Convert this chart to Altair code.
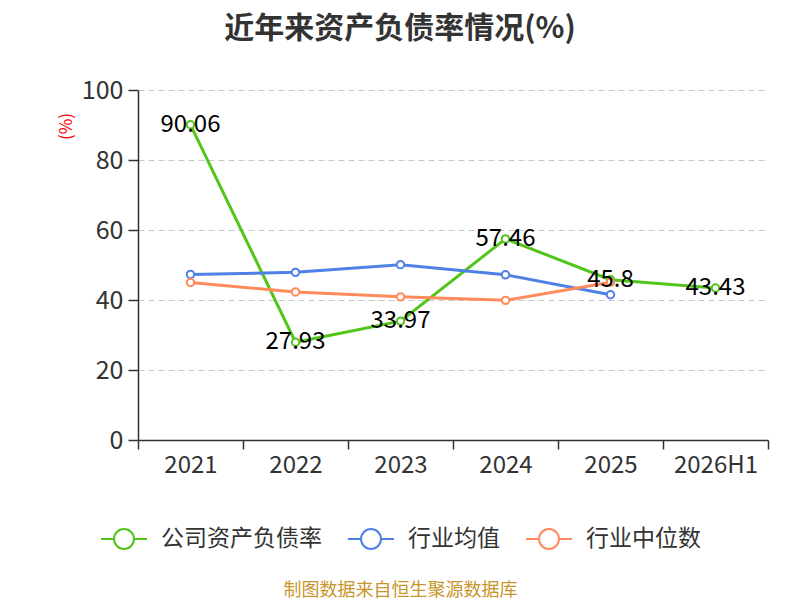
import altair as alt
import pandas as pd

years = ["2021", "2022", "2023", "2024", "2025", "2026H1"]
company = [90.06, 27.93, 33.97, 57.46, 45.8, 43.43]
industry_avg = [47.3, 47.9, 50.1, 47.2, 41.5]
industry_median = [45.0, 42.3, 40.9, 39.9, 45.1]

series_names = ["公司资产负债率", "行业均值", "行业中位数"]
series_colors = ["#52c41a", "#4e80e6", "#ff8a5c"]

rows = []
for y, v in zip(years, company):
    rows.append({"year": y, "value": v, "series": series_names[0]})
for y, v in zip(years, industry_avg):
    rows.append({"year": y, "value": v, "series": series_names[1]})
for y, v in zip(years, industry_median):
    rows.append({"year": y, "value": v, "series": series_names[2]})
df = pd.DataFrame(rows)

FONT = "Noto Sans CJK SC"
legend_symbol = "M-0.92,0L-0.4,0 M0.4,0 A0.4,0.4 0 1,1 -0.4,0 A0.4,0.4 0 1,1 0.4,0 M0.4,0L0.92,0"

x = alt.X(
    "year:N", sort=years,
    scale=alt.Scale(domain=years, paddingInner=0, paddingOuter=0),
    axis=alt.Axis(
        title="制图数据来自恒生聚源数据库", titleColor="#c8952a", titleFontSize=18,
        titleFontWeight="normal", titleY=141, titleX=262,
        labelAngle=0, labelFontSize=24, labelColor="#333333", labelPadding=4,
        tickBand="extent", tickSize=9, tickColor="#333333", tickWidth=1.5,
        domainColor="#333333", domainWidth=1.5, grid=False,
    ),
)
y = alt.Y(
    "value:Q",
    scale=alt.Scale(domain=[0, 100]),
    axis=alt.Axis(
        title="(%)", titleColor="#ff0000", titleFontSize=17, titleFontWeight="normal",
        titleX=-63, titleY=36, titleAngle=-90, titleAlign="center",
        values=[0, 20, 40, 60, 80, 100], labelFontSize=25, labelColor="#333333",
        labelPadding=5, tickSize=10, tickColor="#333333", tickWidth=1.5,
        domainColor="#333333", domainWidth=1.5,
        grid=True, gridColor="#c8c8c8", gridDash=[6, 4], gridWidth=1.2,
    ),
)
color = alt.Color(
    "series:N",
    scale=alt.Scale(domain=series_names, range=series_colors),
    legend=alt.Legend(
        title=None, orient="none", direction="horizontal", legendX=-40, legendY=423,
        symbolType=legend_symbol, symbolSize=2500, symbolStrokeWidth=2,
        symbolFillColor="white", labelFontSize=23, labelColor="#333333",
        labelOffset=11, columnPadding=22, padding=0, labelLimit=300,
    ),
)

base = alt.Chart(df).encode(x=x, y=y, color=color)
lines = base.mark_line(strokeWidth=3)
points = base.mark_point(filled=False, fill="white", size=55, strokeWidth=2, opacity=1)
labels = alt.Chart(df[df["series"] == series_names[0]]).mark_text(
    fontSize=24, color="#000000", baseline="middle", align="center", font=FONT
).encode(x=alt.X("year:N", sort=years), y="value:Q", text="value:Q")

chart = (
    alt.layer(lines, points, labels)
    .properties(
        width=630, height=350,
        autosize=alt.AutoSizeParams(type="none"),
        padding={"left": 130, "top": 82, "right": 22, "bottom": 160},
        title=alt.TitleParams(
            "近年来资产负债率情况(%)", fontSize=30, fontWeight="bold", color="#333333",
            font=FONT, anchor="middle", dx=-53, offset=34,
        ),
    )
    .configure(font=FONT)
    .configure_view(stroke=None)
)

chart.save("out.html", embed_options={"renderer": "svg", "actions": False})
